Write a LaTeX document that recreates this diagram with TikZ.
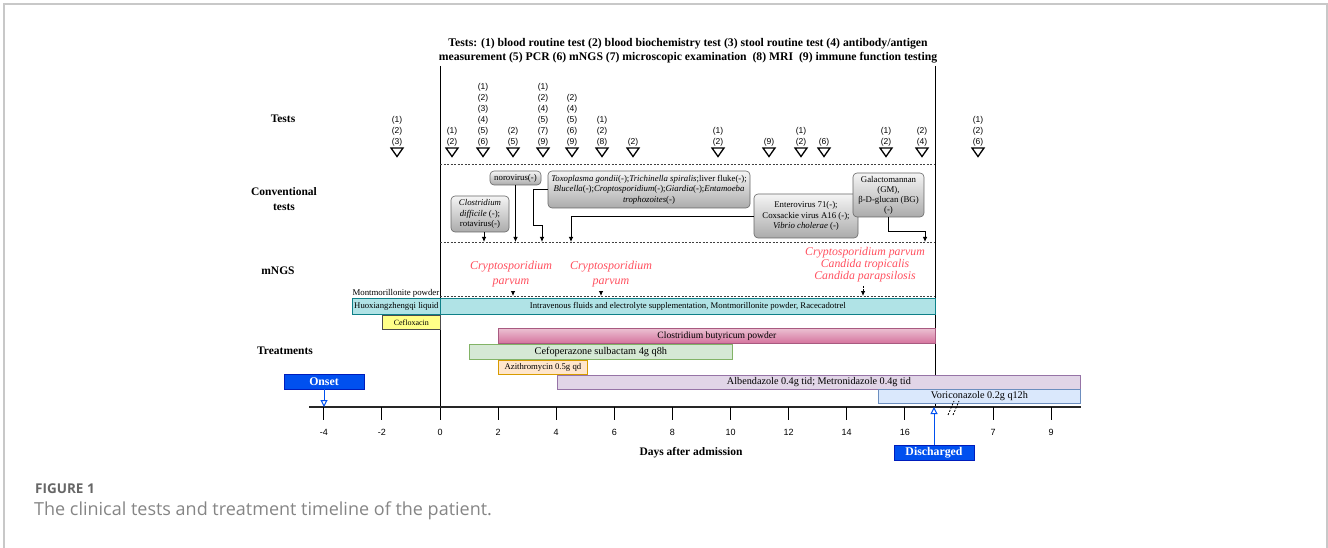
\documentclass[tikz,border=0pt]{standalone}
\usepackage{fontspec}
\setmainfont{Liberation Serif}
\newfontfamily\arialf{Liberation Sans}
\newfontfamily\capf{Open Sans}
\usetikzlibrary{arrows.meta}
\definecolor{framegray}{HTML}{C8C8C8}
\definecolor{mred}{HTML}{FF4F5E}
\definecolor{tealfill}{HTML}{B0E3E6}
\definecolor{tealdraw}{HTML}{0E8088}
\definecolor{yelfill}{HTML}{FFFF88}
\definecolor{pinktop}{HTML}{EBC0D2}
\definecolor{pinkbot}{HTML}{D5739D}
\definecolor{pinkdraw}{HTML}{A85A80}
\definecolor{grfill}{HTML}{D5E8D4}
\definecolor{grdraw}{HTML}{82B366}
\definecolor{orfill}{HTML}{FFE6CC}
\definecolor{ordraw}{HTML}{D79B00}
\definecolor{pufill}{HTML}{E1D5E7}
\definecolor{pudraw}{HTML}{9673A6}
\definecolor{blfill}{HTML}{DAE8FC}
\definecolor{bldraw}{HTML}{6C8EBF}
\definecolor{evfill}{HTML}{0050EF}
\definecolor{evdraw}{HTML}{001DBC}
\tikzset{
  lbl/.style={font=\bfseries\fontsize{11.5}{15.5}\selectfont, align=center},
  tnum/.style={font=\arialf\fontsize{8.5}{11}\selectfont, align=center, anchor=south, inner sep=0pt},
  cbox/.style={draw=black!60, rounded corners=4pt, top color=black!4, bottom color=black!33, align=center, inner sep=1pt, font=\fontsize{8.8}{10.5}\selectfont, line width=0.6pt},
  bar/.style={draw, anchor=north west, inner sep=0pt, font=\fontsize{10.2}{11}\selectfont, line width=0.8pt},
  arr/.style={-{Latex[length=5pt,width=4.5pt]}, line width=0.8pt},
  darr/.style={-{Latex[length=5pt,width=4.5pt]}, line width=0.8pt, dash pattern=on 2pt off 1.5pt},
  sep/.style={dash pattern=on 2pt off 1.5pt, line width=0.8pt, black!75},
  mtxt/.style={text=mred, font=\itshape\fontsize{12}{15}\selectfont, align=center},
  event/.style={fill=evfill, draw=evdraw, text=white, font=\bfseries\fontsize{11.8}{12}\selectfont, minimum width=80pt, minimum height=15pt, inner sep=0pt},
  evarr/.style={evfill, line width=1pt, -{Triangle[open, length=7pt, width=7pt]}},
  ticklbl/.style={font=\arialf\fontsize{9}{10}\selectfont, inner sep=0pt},
  marker/.style={line width=1.3pt}
}
\begin{document}
\begin{tikzpicture}[x=1pt,y=-1pt]
\useasboundingbox (0,0) rectangle (1328,548);
% frame
\draw[framegray, line width=1.2pt] (4,548) -- (4,4) -- (1327,4) -- (1327,548);
% title
\node[font=\bfseries\fontsize{11.7}{14}\selectfont, align=center] (title) at (688,51)
 {Tests: (1) blood routine test (2) blood biochemistry test (3) stool routine test (4) antibody/antigen\\measurement (5) PCR (6) mNGS (7) microscopic examination\ \ (8) MRI\ \ (9) immune function testing};
% row labels
\node[lbl] (rT) at (283,119) {Tests};
\node[lbl] (rC) at (284,199) {Conventional\\tests};
\node[lbl] (rM) at (278,271) {mNGS};
\node[lbl] (rTr) at (285,351) {Treatments};
% hospital period lines
\draw[line width=1pt] (440,66) -- (440,420);
\draw[line width=1pt] (935,66) -- (935,407);
\draw[sep] (440,164) -- (935,164);
\draw[sep] (440,242) -- (935,242);
\draw[sep] (440,296.5) -- (935,296.5);
% tests markers
\foreach \x/\t [count=\i] in {
  397/{(1)\\(2)\\(3)},
  452/{(1)\\(2)},
  483/{(1)\\(2)\\(3)\\(4)\\(5)\\(6)},
  513/{(2)\\(5)},
  543/{(1)\\(2)\\(4)\\(5)\\(7)\\(9)},
  572/{(2)\\(4)\\(5)\\(6)\\(9)},
  602/{(1)\\(2)\\(8)},
  633/{(2)},
  718/{(1)\\(2)},
  769/{(9)},
  801/{(1)\\(2)},
  824/{(6)},
  886/{(1)\\(2)},
  922/{(2)\\(4)},
  978/{(1)\\(2)\\(6)}} {
  \node[tnum] (tl\i) at (\x,146.5) {\t};
  \draw[marker] (\x-6,148) -- (\x+6,148) -- (\x,156.5) -- cycle;
}
% conventional tests
\node[cbox, minimum width=58pt, minimum height=36pt] (c1) at (480,214) {\textit{Clostridium}\\\textit{difficile} (-);\\rotavirus(-)};
\node[cbox, minimum width=51pt, minimum height=14pt] (c2) at (515.5,178) {norovirus(-)};
\node[cbox, minimum width=202pt, minimum height=37pt] (c3) at (649,189.5) {\textit{Toxoplasma gondii}(-);\textit{Trichinella spiralis};liver fluke(-);\\\textit{Blucella}(-);\textit{Croptosporidium}(-);\textit{Giardia}(-);\textit{Entamoeba}\\\textit{trophozoites}(-)};
\node[cbox, minimum width=104pt, minimum height=44pt] (c4) at (806,216) {Enterovirus 71(-);\\Coxsackie virus A16 (-);\\\textit{Vibrio cholerae} (-)};
\node[cbox, minimum width=71pt, minimum height=44pt, font=\fontsize{8.8}{10}\selectfont] (c5) at (888.5,195) {Galactomannan\\(GM),\\β-D-glucan (BG)\\(-)};
\coordinate (a1) at (484,242);
\coordinate (a2) at (515.5,242);
\coordinate (a3) at (542,242);
\coordinate (a4) at (571,242);
\coordinate (a5) at (925,242);
\draw[arr] (c1.south -| a1) -- (a1);
\draw[arr] (c2.south) -- (a2);
\draw[arr] (c3.west) -| (533,225) -- (542,225) -- (a3);
\draw[arr] (c4.west) -| (a4);
\draw[arr] (c5.south) -- (888.5,231) -| (a5);
% mNGS
\node[mtxt] (m1) at (511,274.5) {Cryptosporidium\\parvum};
\node[mtxt] (m2) at (611,274.5) {Cryptosporidium\\parvum};
\node[mtxt, font=\itshape\fontsize{11.8}{12}\selectfont] (m3) at (865,265) {Cryptosporidium parvum\\Candida tropicalis\\Candida parapsilosis};
\coordinate (n1) at (513,296);
\coordinate (n2) at (601,296);
\coordinate (n3) at (863,296);
\draw[darr] (m1.south -| n1) -- (n1);
\draw[darr] (m2.south -| n2) -- (n2);
\draw[darr] (m3.south -| n3) -- (n3);
% treatments
\node[font=\fontsize{8.8}{9}\selectfont, anchor=south east, inner sep=0.5pt] (mont) at (440,298) {Montmorillonite powder};
\node[bar, fill=tealfill, draw=tealdraw, minimum width=88pt, minimum height=16pt, font=\fontsize{8.7}{9}\selectfont] (huo) at (352,298) {Huoxiangzhengqi liquid};
\node[bar, fill=tealfill, draw=tealdraw, minimum width=495pt, minimum height=16pt, font=\fontsize{8.7}{10}\selectfont] (iv) at (440,298) {Intravenous fluids and electrolyte supplementation, Montmorillonite powder, Racecadotrel};
\node[bar, fill=yelfill, draw=black!70, minimum width=58pt, minimum height=14pt, font=\fontsize{8}{9}\selectfont] (cef) at (382,315) {Cefloxacin};
\node[bar, top color=pinktop, bottom color=pinkbot, draw=pinkdraw, minimum width=437pt, minimum height=15pt, font=\fontsize{9.6}{10}\selectfont] (clo) at (498,328) {Clostridium butyricum powder};
\node[bar, fill=grfill, draw=grdraw, minimum width=263pt, minimum height=15pt, font=\fontsize{10.3}{11}\selectfont] (cefo) at (469,344) {Cefoperazone sulbactam 4g q8h};
\node[bar, fill=orfill, draw=ordraw, minimum width=89pt, minimum height=14pt, font=\fontsize{8.7}{9}\selectfont] (azi) at (498,360) {Azithromycin 0.5g qd};
\node[bar, fill=pufill, draw=pudraw, minimum width=523pt, minimum height=14.5pt] (alb) at (557,374.5) {Albendazole 0.4g tid; Metronidazole 0.4g tid};
\node[bar, fill=blfill, draw=bldraw, minimum width=202pt, minimum height=14pt] (vor) at (878,389) {Voriconazole 0.2g q12h};
% axis
\draw[line width=1.1pt, black!85] (309,407) -- (1081,407);
\foreach \d in {-4,-2,...,16} {
  \ifnum\d=0\else\draw[line width=1pt] (440+29.05*\d,407) -- (440+29.05*\d,420);\fi
  \node[ticklbl] (tk\d) at (440+29.05*\d,432) {\d};
}
\foreach \x/\d in {993/7,1051/9} {
  \draw[line width=1pt] (\x,407) -- (\x,420);
  \node[ticklbl] (tb\d) at (\x,432) {\d};
}
\draw[line width=0.8pt, dash pattern=on 2pt off 1.5pt] (948,415) -- (954,401);
\draw[line width=0.8pt, dash pattern=on 2pt off 1.5pt] (953,415) -- (959,401);
\node[lbl] (xlab) at (691,453) {Days after admission};
% events
\node[event] (onset) at (324,381.5) {Onset};
\coordinate (onA) at (324,407);
\draw[evarr] (onset.south) -- (onA);
\node[event] (dis) at (934,453) {Discharged};
\coordinate (disA) at (934,407);
\draw[evarr] (dis.north) -- (disA);
% caption
\node[anchor=west, text=black!60, font=\capf\bfseries\fontsize{13.5}{15}\selectfont, inner sep=0pt] (fig) at (35,488.5) {FIGURE 1};
\node[anchor=west, text=black!48, font=\capf\fontsize{18}{20}\selectfont, inner sep=0pt] (cap) at (34,511) {The clinical tests and treatment timeline of the patient.};
\end{tikzpicture}
\end{document}
